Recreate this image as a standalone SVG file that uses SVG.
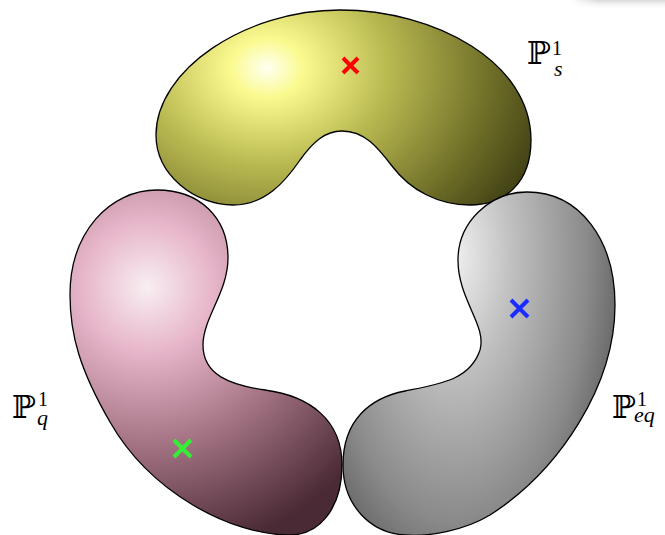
<svg xmlns="http://www.w3.org/2000/svg" width="665" height="535" viewBox="0 0 665 535">
<defs>
<radialGradient id="gY" gradientUnits="userSpaceOnUse" cx="267" cy="68" r="300" gradientTransform="translate(267 68) scale(1 0.8) translate(-267 -68)">
<stop offset="0" stop-color="#fffff2"/>
<stop offset="0.12" stop-color="#fafa90"/>
<stop offset="0.4" stop-color="#baba52"/>
<stop offset="0.75" stop-color="#6e6e28"/>
<stop offset="1" stop-color="#3a3a12"/>
</radialGradient>
<radialGradient id="gP" gradientUnits="userSpaceOnUse" cx="147" cy="287" r="270">
<stop offset="0" stop-color="#f8eef2"/>
<stop offset="0.25" stop-color="#e6b4c8"/>
<stop offset="0.6" stop-color="#a07080"/>
<stop offset="1" stop-color="#4a2a34"/>
</radialGradient>
<radialGradient id="gG" gradientUnits="userSpaceOnUse" cx="455" cy="255" r="190" gradientTransform="translate(455 255) scale(1 2) translate(-455 -255)">
<stop offset="0" stop-color="#efefef"/>
<stop offset="0.3" stop-color="#c0c0c0"/>
<stop offset="0.7" stop-color="#8a8a8a"/>
<stop offset="1" stop-color="#505050"/>
</radialGradient>
<linearGradient id="gS" x1="0" y1="0" x2="0" y2="1">
<stop offset="0" stop-color="#d8d8d8"/>
<stop offset="1" stop-color="#ffffff" stop-opacity="0"/>
</linearGradient>
<linearGradient id="gSx" x1="0" y1="0" x2="1" y2="0">
<stop offset="0" stop-color="#ffffff"/>
<stop offset="0.3" stop-color="#ffffff" stop-opacity="0"/>
</linearGradient>
</defs>
<style>
.blob{stroke:#000;stroke-width:1.3}
.mark{fill:none;stroke-width:4;stroke-linecap:butt}
.P{font-family:"DejaVu Serif","DejaVu Sans",serif;font-size:32px;fill:#000}
.sup{font-family:"Liberation Serif",serif;font-size:20px;fill:#000}
.sub{font-family:"Liberation Serif",serif;font-style:italic;font-size:22px;fill:#000}
</style>
<rect width="665" height="535" fill="#fff"/>
<g id="shadow">
<rect x="570" y="0" width="95" height="10" fill="url(#gS)"/>
<rect x="570" y="0" width="95" height="10" fill="url(#gSx)"/>
</g>
<g id="Ps">
<path class="blob" fill="url(#gY)" d="M342,131 C365,131 378,148 392,166 C410,190 438,205 470,205 C505,205 531,183 531,140 C531,62 435,10 340,10 C245,10 156,70 156,135 C156,175 195,205 233,205 C265,205 285,182 300,160 C313,142 325,131 342,131 Z"/>
<path class="mark" stroke="#ff0000" d="M343,58 L358,73 M358,58 L343,73"/>
<text class="P" x="527" y="64">ℙ</text>
<text class="sup" x="552" y="55">1</text>
<text class="sub" x="554" y="76">s</text>
</g>
<g id="Pq">
<path class="blob" fill="url(#gP)" d="M157,190 C200,190 228,218 228,258 C228,292 203,318 203,345 C203,375 230,385 265,390 C310,396 342,420 342,465 C342,510 318,535 290,535 C230,535 150,492 110,422 C80,370 70,335 70,295 C70,232 110,190 157,190 Z"/>
<path class="mark" stroke="#33ee33" d="M174,440 L191,457 M191,440 L174,457"/>
<text class="P" x="12" y="418">ℙ</text>
<text class="sup" x="38" y="406">1</text>
<text class="sub" x="37" y="425">q</text>
</g>
<g id="Peq">
<path class="blob" fill="url(#gG)" d="M527,192 C580,192 615,240 615,305 C615,385 560,470 490,515 C465,530 430,537 405,535 C370,533 343,505 343,465 C343,420 370,398 405,391 C440,384 470,380 480,350 C487,325 458,300 458,260 C458,222 490,192 527,192 Z"/>
<path class="mark" stroke="#1a2cff" d="M511,300 L528,317 M528,300 L511,317"/>
<text class="P" x="612" y="418">ℙ</text>
<text class="sup" x="637" y="406">1</text>
<text class="sub" x="634" y="422">eq</text>
</g>
</svg>
